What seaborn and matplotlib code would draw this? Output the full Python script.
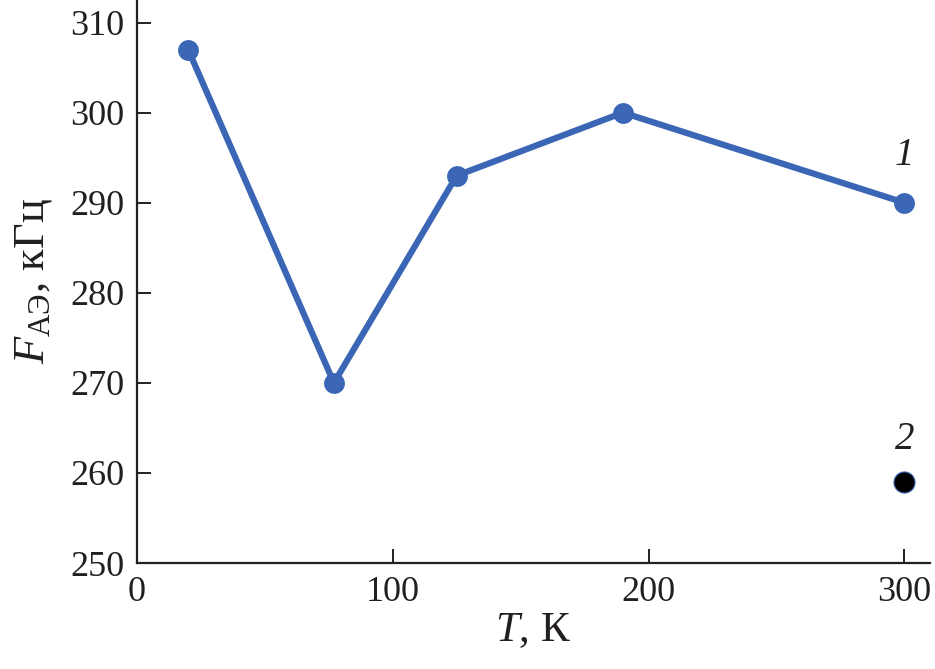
import matplotlib
matplotlib.use("Agg")
import matplotlib.pyplot as plt
import pandas as pd
import seaborn as sns

# data
temp_1 = [20, 77, 125, 190, 300]
freq_1 = [307, 270, 293, 300, 290]
temp_2 = [300]
freq_2 = [259]

line_color = "#3a66b5"
ink = "#231f20"

sns.set_style("ticks")
plt.rcParams['font.family'] = ['Liberation Serif', 'DejaVu Serif']
plt.rcParams['mathtext.fontset'] = 'custom'
plt.rcParams['mathtext.rm'] = 'Liberation Serif'
plt.rcParams['mathtext.it'] = 'Liberation Serif:italic'
plt.rcParams['xtick.direction'] = 'in'
plt.rcParams['ytick.direction'] = 'in'

fig = plt.figure(figsize=(9.35, 6.69), dpi=100)
ax = fig.add_axes([0.1465, 0.1584, 0.848, 0.8416])

df1 = pd.DataFrame({"T": temp_1, "F": freq_1})
df2 = pd.DataFrame({"T": temp_2, "F": freq_2})

sns.lineplot(data=df1, x="T", y="F", ax=ax, color=line_color, linewidth=4.5,
             marker="o", markersize=15, markeredgewidth=0)
sns.scatterplot(data=df2, x="T", y="F", ax=ax, color="black", s=230,
                edgecolor=line_color, linewidth=0.8, zorder=3)

ax.set_xlim(0, 310)
ax.set_ylim(250, 312.5)
ax.set_xticks([0, 100, 200, 300])
ax.set_yticks(range(250, 311, 10))
ax.tick_params(labelsize=26, length=10, width=1.4, colors=ink, pad=9)
for sp in ["left", "bottom"]:
    ax.spines[sp].set_linewidth(1.6)
    ax.spines[sp].set_color(ink)
sns.despine(ax=ax)

ax.set_xlabel("$\\mathit{T}$, К", fontsize=31, color=ink, labelpad=2)
ax.set_ylabel("$\\mathit{F}_{\\mathrm{АЭ}}$, кГц", fontsize=32, color=ink, labelpad=12)

ax.text(300, 293.2, "1", fontsize=28, style="italic", ha="center", va="bottom", color=ink)
ax.text(300, 261.7, "2", fontsize=28, style="italic", ha="center", va="bottom", color=ink)

fig.savefig("out.png", dpi=100)
